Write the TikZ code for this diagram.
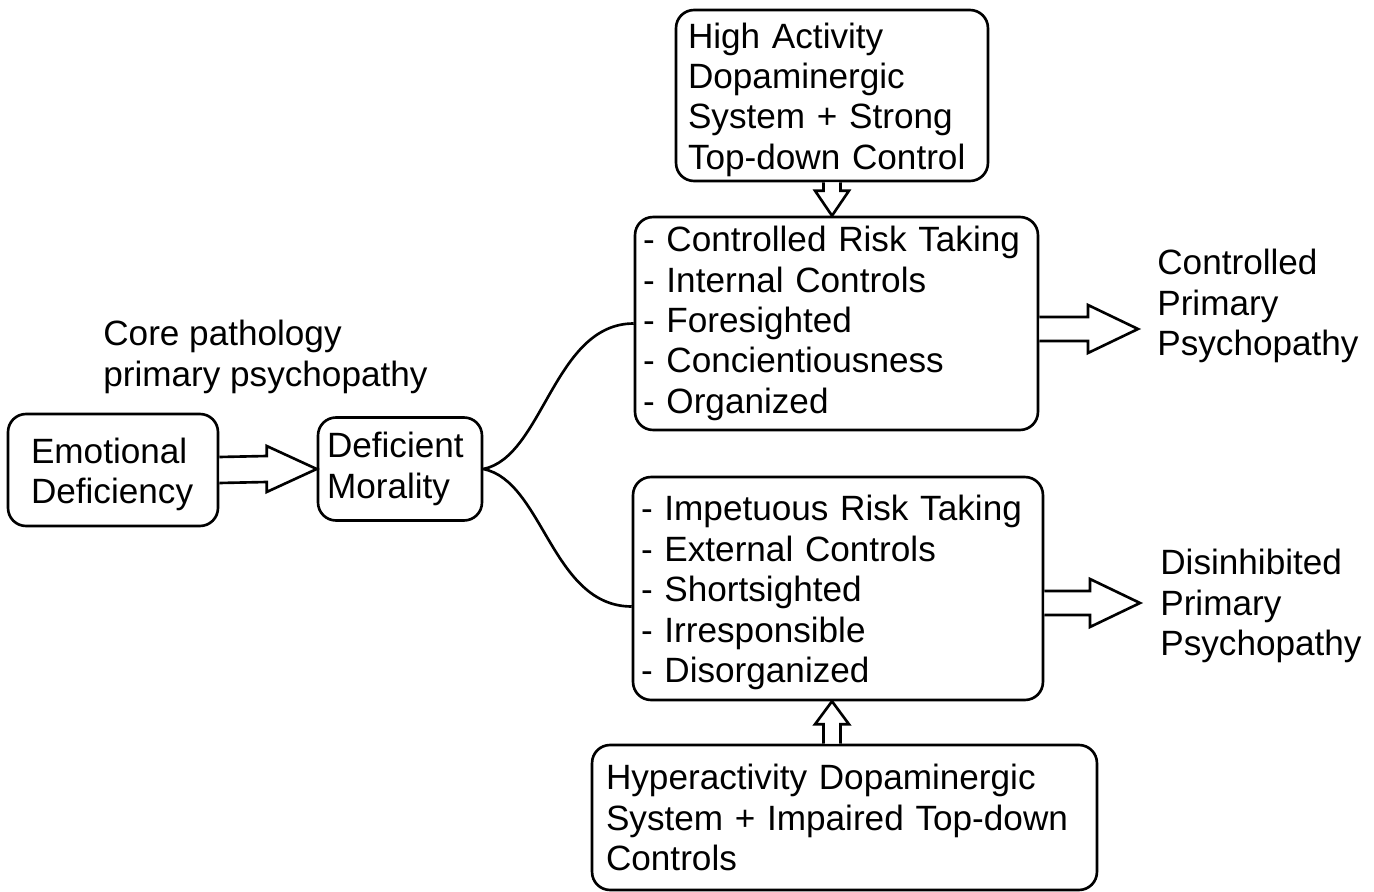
\documentclass[tikz,border=0pt]{standalone}
\usepackage{fontspec}
\setmainfont{Liberation Sans}
\usepackage{tikz}
\usetikzlibrary{calc}

\begin{document}
\begin{tikzpicture}[x=0.02cm, y=-0.02cm, font=\fontsize{20}{23}\selectfont,
          box/.style={draw, rounded corners=0.36cm, line width=1.5pt, align=left, inner sep=2pt},
          lowtext/.style={execute at begin node={\rule{0pt}{19.2pt}}},
          hollow/.style={draw, line width=1.5pt, fill=white, line join=miter},
          link/.style={draw, line width=1.5pt}]
        \useasboundingbox (0,0) rectangle (1374,892);
        \node[box, lowtext, text width=3.28cm, minimum width=4.2cm, minimum height=2.24cm] (emo) at (113,470) {Emotional\\Deficiency};
        \node[box, text width=2.92cm, minimum width=3.28cm, minimum height=2.06cm] (defm) at (400,469) {Deficient\\Morality};
        \node[anchor=west, inner sep=0pt, align=left] (core) at (103,357) {Core pathology\\primary psychopathy};
        \node[box, lowtext, text width=5.76cm, minimum width=6.24cm, minimum height=3.42cm] (high) at (832,95.5) {High Activity\\Dopaminergic\\System + Strong\\Top-down Control};
        \node[box, text width=7.74cm, minimum width=8.06cm, minimum height=4.26cm] (ctrl) at (836.5,323.5) {- Controlled Risk Taking\\- Internal Controls\\- Foresighted\\- Concientiousness\\- Organized};
        \node[box, lowtext, text width=7.88cm, minimum width=8.2cm, minimum height=4.46cm] (imp) at (838,588.5) {- Impetuous Risk Taking\\- External Controls\\- Shortsighted\\- Irresponsible\\- Disorganized};
        \node[box, text width=9.54cm, minimum width=10.1cm, minimum height=2.9cm] (hyper) at (844.5,817.5) {Hyperactivity Dopaminergic\\System + Impaired Top-down\\Controls};
        \node[anchor=west, inner sep=0pt, align=left] (outA) at (1157,306) {Controlled\\Primary\\Psychopathy};
        \node[anchor=west, inner sep=0pt, align=left] (outB) at (1160,606) {Disinhibited\\Primary\\Psychopathy};
        \coordinate (tipA) at (1138,329);
        \coordinate (tipB) at (1140,603);
        % block arrows
        \draw[hollow] ($(emo.east)+(0,-13)$) -- ($(defm.west)+(-50,-13)$) -- ($(defm.west)+(-50,-23)$) -- (defm.west)
          -- ($(defm.west)+(-50,23)$) -- ($(defm.west)+(-50,13)$) -- ($(emo.east)+(0,13)$);
        \draw[hollow] ($(ctrl.east|-tipA)+(0,-12)$) -- ($(tipA)+(-50,-12)$) -- ($(tipA)+(-50,-24)$) -- (tipA)
          -- ($(tipA)+(-50,24)$) -- ($(tipA)+(-50,12)$) -- ($(ctrl.east|-tipA)+(0,12)$);
        \draw[hollow] ($(imp.east|-tipB)+(0,-12)$) -- ($(tipB)+(-50,-12)$) -- ($(tipB)+(-50,-24)$) -- (tipB)
          -- ($(tipB)+(-50,24)$) -- ($(tipB)+(-50,12)$) -- ($(imp.east|-tipB)+(0,12)$);
        \draw[hollow] ($(high.south)+(-8.5,0)$) -- ($(ctrl.north-|high.south)+(-8.5,-25)$) -- ($(ctrl.north-|high.south)+(-17,-25)$)
          -- (ctrl.north-|high.south) -- ($(ctrl.north-|high.south)+(17,-25)$) -- ($(ctrl.north-|high.south)+(8.5,-25)$) -- ($(high.south)+(8.5,0)$);
        \draw[hollow] ($(hyper.north-|high.south)+(-8.5,0)$) -- ($(imp.south-|high.south)+(-8.5,23)$) -- ($(imp.south-|high.south)+(-17,23)$)
          -- (imp.south-|high.south) -- ($(imp.south-|high.south)+(17,23)$) -- ($(imp.south-|high.south)+(8.5,23)$) -- ($(hyper.north-|high.south)+(8.5,0)$);
        % branches
        \draw[link] (defm.east) .. controls +(60,-12) and +(-80,0) .. (ctrl.west);
        \draw[link] (defm.east) .. controls +(60,12) and +(-80,0) .. ($(imp.west)+(0,18)$);
      \end{tikzpicture}
\end{document}
